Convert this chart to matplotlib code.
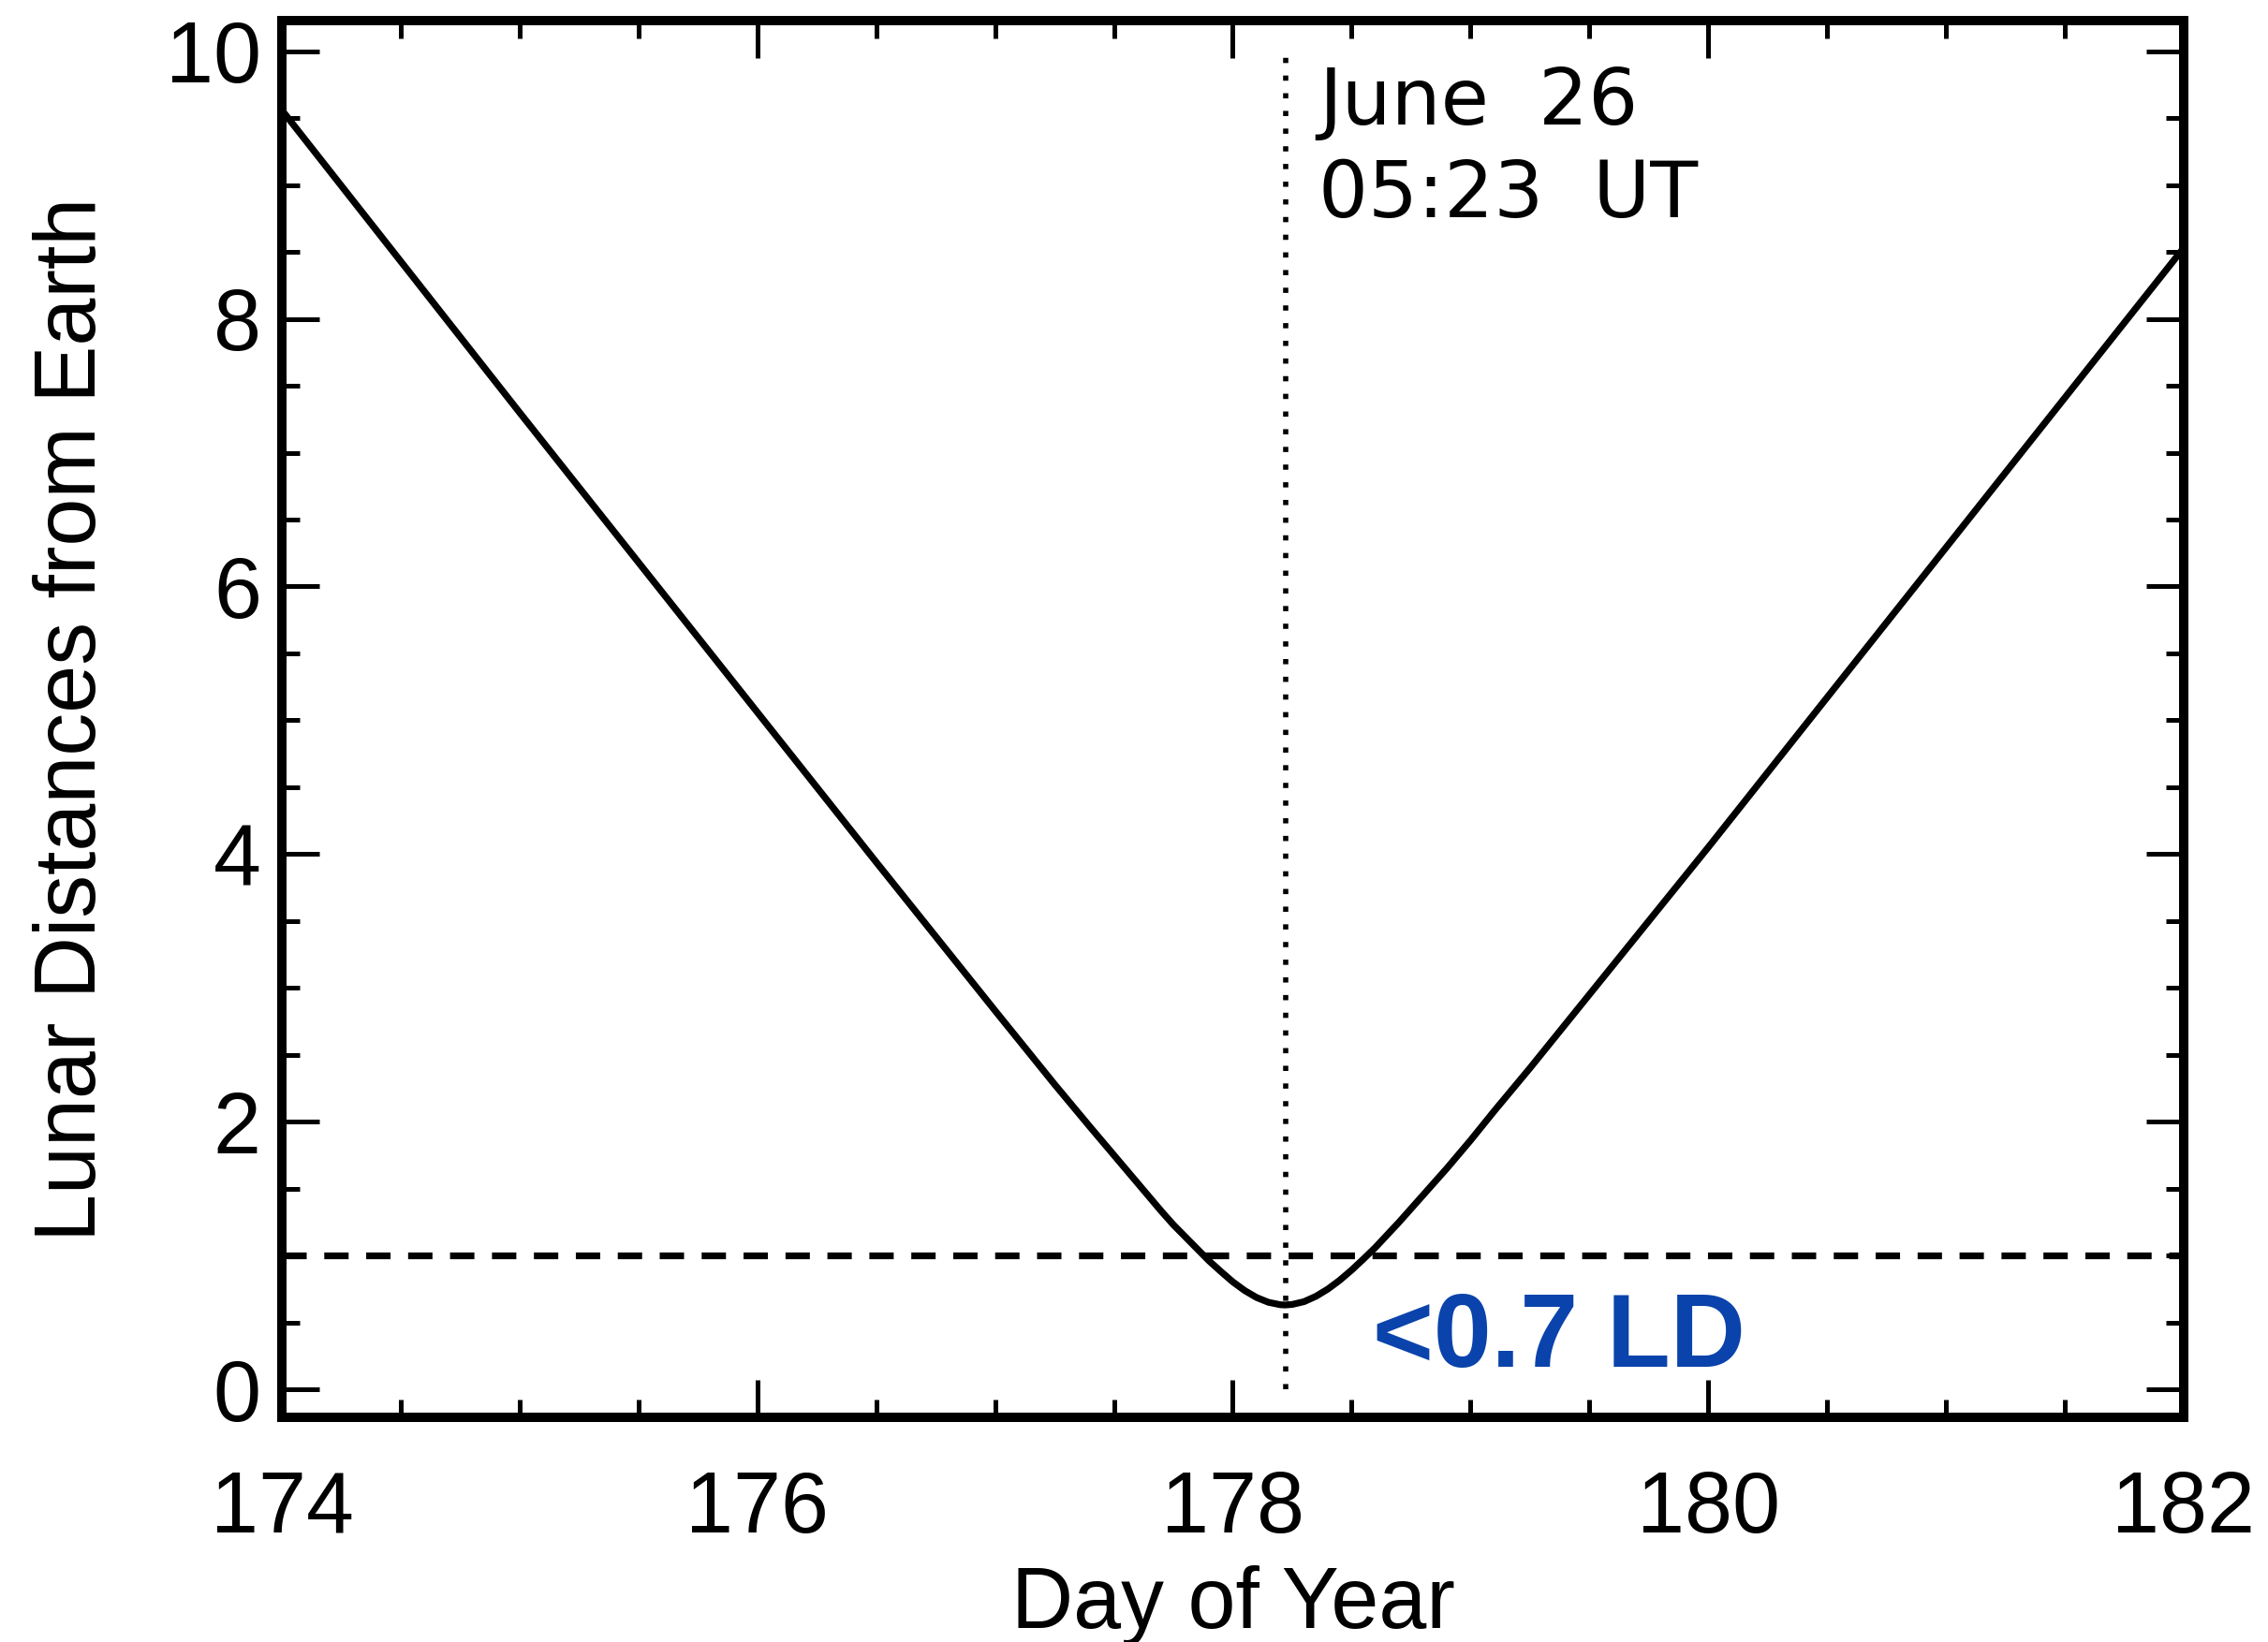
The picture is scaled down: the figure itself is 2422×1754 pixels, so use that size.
import matplotlib
matplotlib.use('Agg')
import matplotlib.pyplot as plt

# closest approach curve (day of year, lunar distances)
days = [174.0, 174.5, 175.0, 175.5, 176.0, 176.5, 177.0, 177.25, 177.4, 177.5,
        177.6, 177.7, 177.75, 177.8, 177.85, 177.9, 177.95, 178.0, 178.05,
        178.1, 178.15, 178.2, 178.22, 178.25, 178.3, 178.35, 178.4, 178.45,
        178.5, 178.55, 178.6, 178.65, 178.7, 178.75, 178.8, 178.9, 179.0,
        179.1, 179.25, 179.5, 180.0, 180.5, 181.0, 181.5, 182.0]
dist = [9.56, 8.43, 7.30, 6.18, 5.06, 3.94, 2.83, 2.28, 1.96, 1.75,
        1.54, 1.33, 1.23, 1.14, 1.05, 0.96, 0.88, 0.803, 0.738,
        0.686, 0.650, 0.632, 0.630, 0.634, 0.655, 0.695, 0.749, 0.815,
        0.891, 0.974, 1.06, 1.155, 1.25, 1.35, 1.45, 1.65, 1.86,
        2.08, 2.40, 2.95, 4.05, 5.17, 6.29, 7.41, 8.53]

t_closest = 178.224
one_ld = 1.0
xticks = [174, 176, 178, 180, 182]
yticks = [0, 2, 4, 6, 8, 10]

plt.rcParams['font.family'] = ['Liberation Sans', 'DejaVu Sans']

fig = plt.figure(figsize=(12.11, 8.77), dpi=200)
ax = fig.add_axes([0.1243, 0.1368, 0.8385, 0.8507])

ax.plot(days, dist, color='black', lw=2.6, solid_joinstyle='round')
ax.axhline(one_ld, color='black', lw=2.6, dashes=(3.6, 2.6))
ax.vlines(t_closest, 0, 10, color='black', lw=2.0, linestyles=(0, (1, 2.4)))

ax.text(178.36, 9.9, 'June  26\n05:23  UT', family='DejaVu Sans', fontsize=30,
        va='top', ha='left', linespacing=1.28)
ax.text(178.59, 0.17, '<0.7 LD', color='#0a43ab', fontsize=40, fontweight='bold',
        va='baseline', ha='left')

ax.set_xlim(174, 182)
ax.set_ylim(-0.21, 10.23)
ax.set_xticks(xticks)
ax.set_yticks(yticks)
ax.set_xticks([174 + 0.5 * i for i in range(17)], minor=True)
ax.set_yticks([0.5 * i for i in range(21)], minor=True)

ax.tick_params(which='both', direction='in', top=True, right=True, width=1.8,
               labelsize=33)
ax.tick_params(which='major', length=14.4)
ax.tick_params(which='minor', length=7)
ax.tick_params(axis='x', pad=20)
ax.tick_params(axis='y', pad=8)
for s in ax.spines.values():
    s.set_linewidth(3.6)

ax.set_xlabel('Day of Year', fontsize=33, labelpad=6)
ax.set_ylabel('Lunar Distances from Earth', fontsize=33, labelpad=20)

fig.savefig('out.png', dpi=200)
